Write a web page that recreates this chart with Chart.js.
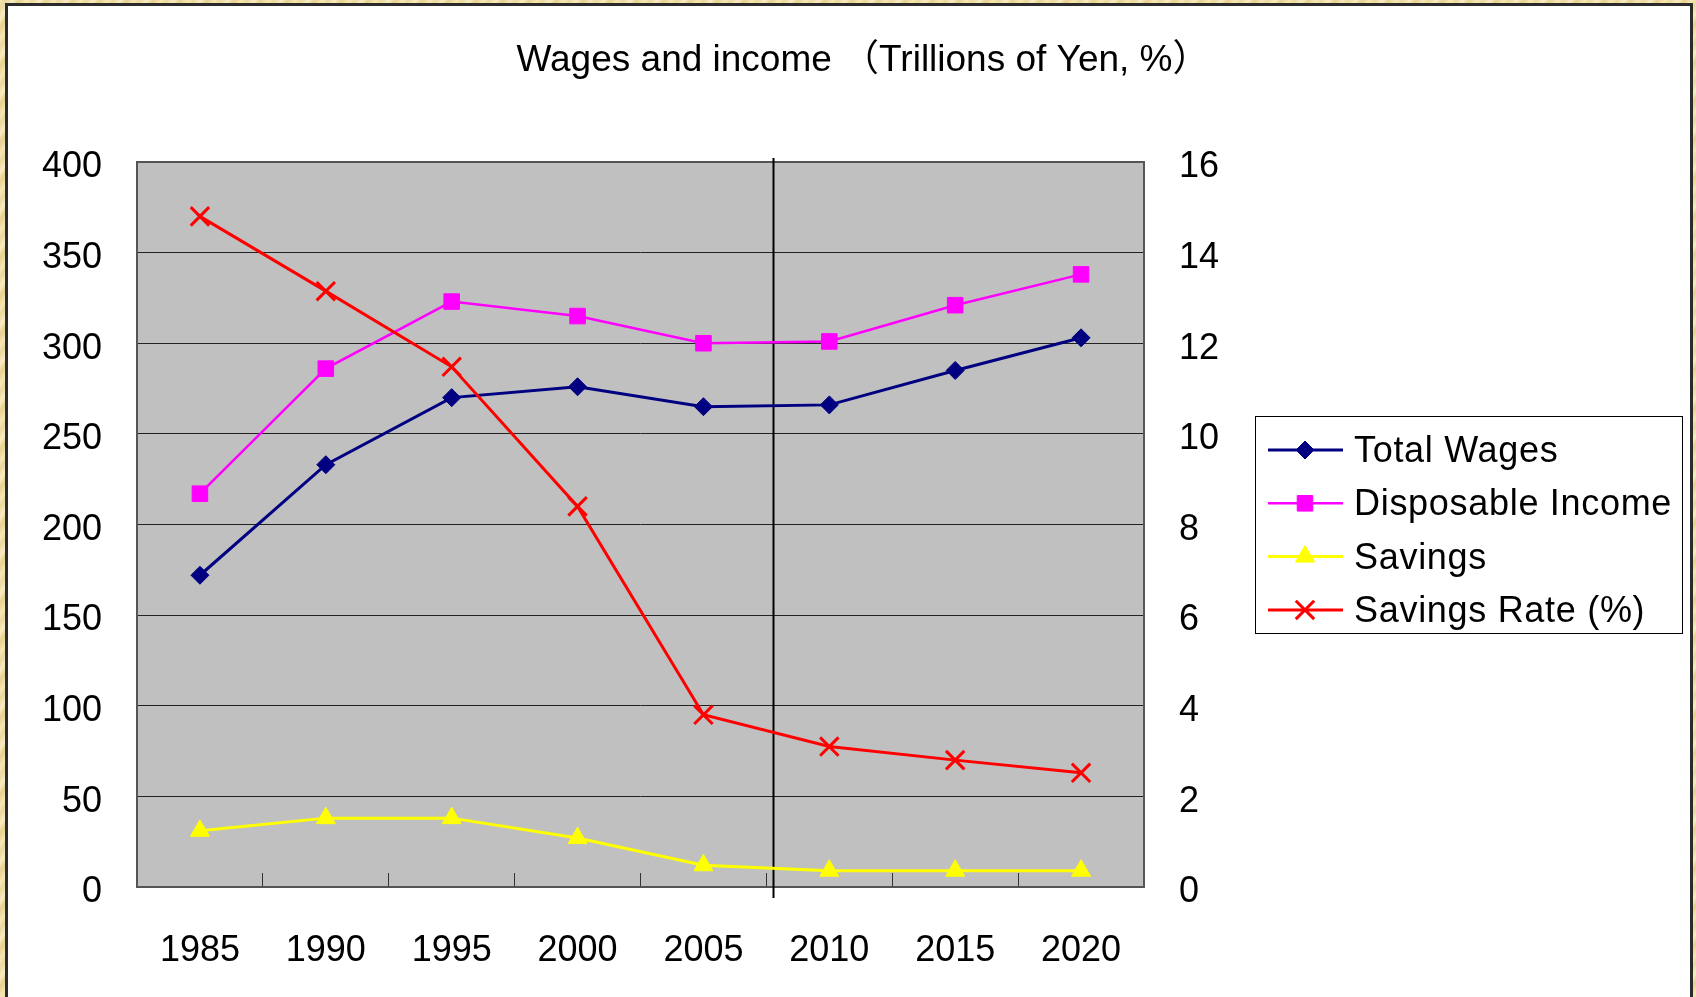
<!DOCTYPE html>
<html>
<head>
<meta charset="utf-8">
<script src="https://cdn.jsdelivr.net/npm/chart.js@4.4.1/dist/chart.umd.min.js"></script>
<style>
  html, body { margin: 0; padding: 0; }
  body {
    width: 1696px; height: 997px; overflow: hidden; position: relative;
    background: repeating-linear-gradient(125deg, #f6e8b6 0px, #ecd89c 5px, #f8ecc2 11px, #e8d08e 16px, #f5e5b0 22px);
  }
  #panneau {
    position: absolute; left: 5px; top: 3px; width: 1682px; height: 1100px;
    background: #fff; border: 3px solid #2b2b2b;
  }
  #graphe { position: absolute; left: 0; top: 0; }
</style>
</head>
<body>
<div id="panneau"></div>
<canvas id="graphe" width="1696" height="997"></canvas>
<script>
// donnees
const annees = ['1985', '1990', '1995', '2000', '2005', '2010', '2015', '2020'];
const salairesTotaux = [172, 233, 270, 276, 265, 266, 285, 303];
const revenuDisponible = [217, 286, 323, 315, 300, 301, 321, 338];
const epargne = [31, 38, 38, 27, 12, 9, 9, 9];
const tauxEpargne = [14.8, 13.15, 11.48, 8.4, 3.8, 3.1, 2.8, 2.52];
const titre = 'Wages and income （Trillions of Yen, %）';
const noms = ['Total Wages', 'Disposable Income', 'Savings', 'Savings Rate (%)'];
const ticksGauche = { min: 0, max: 400, pas: 50 };
const ticksDroite = { min: 0, max: 16, pas: 2 };
// separation verticale entre 2005 et 2010 (en index de categorie)
const separation = 4.55;

const police = '"Liberation Sans", "Noto Sans CJK JP", sans-serif';

// fond gris de la zone de trace + cadre + ligne verticale + legende encadree
const decor = {
  id: 'decor',
  beforeDraw(chart) {
    const { ctx, chartArea: a } = chart;
    ctx.save();
    ctx.fillStyle = '#c0c0c0';
    ctx.fillRect(a.left, a.top, a.right - a.left, a.bottom - a.top);
    ctx.restore();
  },
  beforeDatasetsDraw(chart) {
    const { ctx, chartArea: a } = chart;
    ctx.save();
    ctx.strokeStyle = '#555';
    ctx.lineWidth = 2;
    ctx.strokeRect(a.left, a.top, a.right - a.left, a.bottom - a.top);
    const xs = Math.round(chart.scales.x.getPixelForValue(separation)) + 0.5;
    ctx.strokeStyle = '#000';
    ctx.lineWidth = 2;
    ctx.beginPath();
    ctx.moveTo(xs, a.top - 4);
    ctx.lineTo(xs, a.bottom + 11);
    ctx.stroke();
    ctx.restore();
  },
  afterDraw(chart) {
    const { ctx, chartArea: a } = chart;
    const larg = 427, haut = 217;
    const gx = a.right + 111;
    const gy = Math.round((a.top + a.bottom) / 2 - haut / 2);
    ctx.save();
    ctx.fillStyle = '#fff';
    ctx.fillRect(gx, gy, larg, haut);
    ctx.strokeStyle = '#000';
    ctx.lineWidth = 1;
    ctx.strokeRect(gx + 0.5, gy + 0.5, larg, haut);
    ctx.font = '36px ' + police;
    ctx.textBaseline = 'middle';
    chart.data.datasets.forEach((ds, i) => {
      const y = gy + 34 + i * 53.3;
      ctx.strokeStyle = ds.borderColor;
      ctx.lineWidth = ds.borderWidth;
      ctx.beginPath();
      ctx.moveTo(gx + 13, y);
      ctx.lineTo(gx + 88, y);
      ctx.stroke();
      ctx.fillStyle = ds.pointBackgroundColor;
      ctx.strokeStyle = ds.pointBorderColor;
      ctx.lineWidth = ds.pointBorderWidth;
      Chart.helpers.drawPoint(ctx, {
        pointStyle: ds.pointStyle, radius: ds.pointRadius,
        rotation: 0, borderWidth: ds.pointBorderWidth
      }, gx + 50, y);
      ctx.fillStyle = '#000';
      ctx.letterSpacing = '0.7px';
      ctx.fillText(ds.label, gx + 99, y + 2);
      ctx.letterSpacing = '0px';
    });
    ctx.restore();
  }
};

const policeTicks = { family: police, size: 36 };
// petite ligne vide devant le libelle pour le descendre de quelques pixels
const policeTicksY = { family: police, size: 36, lineHeight: 0.3 };
const decaler = v => ['', String(v)];

new Chart(document.getElementById('graphe'), {
  type: 'line',
  data: {
    labels: annees,
    datasets: [{
      label: noms[0], data: salairesTotaux, yAxisID: 'y', order: 4,
      borderColor: '#000080', borderWidth: 3,
      pointStyle: 'rectRot', pointRadius: 9,
      pointBackgroundColor: '#000080', pointBorderColor: '#000080', pointBorderWidth: 1
    }, {
      label: noms[1], data: revenuDisponible, yAxisID: 'y', order: 3,
      borderColor: '#ff00ff', borderWidth: 2.5,
      pointStyle: 'rect', pointRadius: 11,
      pointBackgroundColor: '#ff00ff', pointBorderColor: '#ff00ff', pointBorderWidth: 1
    }, {
      label: noms[2], data: epargne, yAxisID: 'y', order: 2,
      borderColor: '#ffff00', borderWidth: 3,
      pointStyle: 'triangle', pointRadius: 11,
      pointBackgroundColor: '#ffff00', pointBorderColor: '#ffff00', pointBorderWidth: 1
    }, {
      label: noms[3], data: tauxEpargne, yAxisID: 'y2', order: 1,
      borderColor: '#ff0000', borderWidth: 3,
      pointStyle: 'crossRot', pointRadius: 13,
      pointBackgroundColor: '#ff0000', pointBorderColor: '#ff0000', pointBorderWidth: 3
    }]
  },
  options: {
    responsive: false,
    animation: false,
    events: [],
    // le titre est centre un peu a droite du milieu : on decale la boite de gauche
    layout: { padding: { left: 30, right: 0, top: 0, bottom: 0 } },
    elements: { line: { tension: 0 } },
    plugins: {
      legend: { display: false },
      tooltip: { enabled: false },
      title: {
        display: true, text: titre, color: '#000',
        font: { family: police, size: 37, weight: 'normal', lineHeight: 1.2 },
        padding: { top: 39, bottom: 78.6 }
      }
    },
    scales: {
      x: {
        offset: true,
        grid: { offset: true, drawOnChartArea: false, tickLength: -14, color: '#333', lineWidth: 1 },
        border: { display: false },
        ticks: { font: policeTicks, color: '#000', padding: 56, maxRotation: 0, autoSkip: false },
        afterFit: s => { s.height = 110; }
      },
      y: {
        position: 'left',
        min: ticksGauche.min, max: ticksGauche.max,
        ticks: { stepSize: ticksGauche.pas, font: policeTicksY, color: '#000', padding: 35, callback: decaler },
        grid: { color: '#222', lineWidth: 1, drawTicks: false },
        border: { display: false },
        afterFit: s => { s.width = 107; }
      },
      y2: {
        position: 'right',
        min: ticksDroite.min, max: ticksDroite.max,
        ticks: { stepSize: ticksDroite.pas, font: policeTicksY, color: '#000', padding: 35, callback: decaler },
        grid: { drawOnChartArea: false, drawTicks: false },
        border: { display: false },
        afterFit: s => { s.width = 552; }
      }
    }
  },
  plugins: [decor]
});
</script>
</body>
</html>
